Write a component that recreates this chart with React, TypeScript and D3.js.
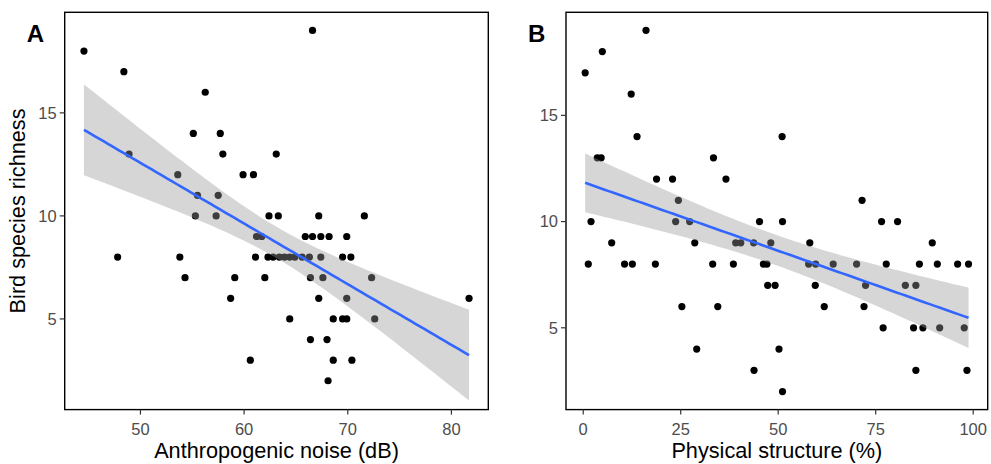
import React from 'react';
import * as d3 from 'd3';

// Panel A: anthropogenic noise (dB) vs bird species richness
const noiseX = [
  66.6, 44.55, 48.4, 56.25, 55.1, 57.7, 48.9, 57.95, 63.1, 53.6, 59.9, 60.9, 55.5, 57.5,
  55.3, 57.3, 62.4, 63.3, 67.2, 71.6,
  61.2, 61.7, 65.9, 66.6, 67.4, 68.2, 69.9,
  47.8, 53.8, 61.1, 62.3, 62.8, 63.4, 63.9, 64.4, 64.9, 65.6, 66.3, 67.4, 69.5, 70.3,
  54.3, 59.1, 62.0, 66.4, 67.6, 72.3,
  58.7, 67.2, 69.9, 81.7,
  64.4, 68.6, 69.5, 69.9, 72.6,
  66.4, 68.0,
  60.6, 68.6, 70.4,
  68.1,
];
const noiseY = [
  19, 18, 17, 16, 14, 14, 13, 13, 13, 12, 12, 12, 11, 11,
  10, 10, 10, 10, 10, 10,
  9, 9, 9, 9, 9, 9, 9,
  8, 8, 8, 8, 8, 8, 8, 8, 8, 8, 8, 8, 8, 8,
  7, 7, 7, 7, 7, 7,
  6, 6, 6, 6,
  5, 5, 5, 5, 5,
  4, 4,
  3, 3, 3,
  2,
];

// Panel B: physical structure (%) vs bird species richness
const structX = [
  16.1, 4.9, 0.5, 12.3, 13.8, 51.0, 3.6, 4.6, 33.4, 18.8, 22.9, 36.6, 24.4, 71.5,
  2.0, 23.7, 27.3, 45.2, 51.1, 76.5, 80.6,
  7.3, 28.6, 39.1, 40.4, 43.7, 48.1, 58.1, 89.5,
  1.3, 10.6, 12.6, 18.5, 33.2, 38.5, 46.2, 47.1, 57.8, 59.6, 64.1, 70.1, 77.7, 86.2, 90.8, 96.0, 98.8,
  47.3, 49.2, 59.5, 72.4, 82.6, 85.3,
  25.3, 34.5, 61.8, 72.0,
  76.9, 84.7, 87.1, 91.4, 97.7,
  29.1, 50.2,
  43.8, 85.3, 98.4,
  51.1,
];
const structY = [
  19, 18, 17, 16, 14, 14, 13, 13, 13, 12, 12, 12, 11, 11,
  10, 10, 10, 10, 10, 10, 10,
  9, 9, 9, 9, 9, 9, 9, 9,
  8, 8, 8, 8, 8, 8, 8, 8, 8, 8, 8, 8, 8, 8, 8, 8, 8,
  7, 7, 7, 7, 7, 7,
  6, 6, 6, 6,
  5, 5, 5, 5, 5,
  4, 4,
  3, 3, 3,
  2,
];

const xTicksA = [50, 60, 70, 80];
const xTicksB = [0, 25, 50, 75, 100];
const yTicks = [5, 10, 15];
const yDomainA: [number, number] = [0.6, 19.88];

const FONT = "'Liberation Sans', Arial, sans-serif";
const TOP = 12.3;
const BOTTOM = 409.6;

function smooth(xs: number[], ys: number[]) {
  const n = xs.length;
  const mx = d3.mean(xs)!;
  const my = d3.mean(ys)!;
  let sxx = 0, sxy = 0;
  for (let i = 0; i < n; i++) {
    sxx += (xs[i] - mx) ** 2;
    sxy += (xs[i] - mx) * (ys[i] - my);
  }
  const b = sxy / sxx;
  const a = my - b * mx;
  let sse = 0;
  for (let i = 0; i < n; i++) sse += (ys[i] - (a + b * xs[i])) ** 2;
  const s = Math.sqrt(sse / (n - 2));
  const t = 2.0;
  const [x0, x1] = d3.extent(xs) as [number, number];
  return d3.range(80).map((i) => {
    const x = x0 + ((x1 - x0) * i) / 79;
    const fit = a + b * x;
    const se = s * Math.sqrt(1 / n + (x - mx) ** 2 / sxx);
    return { x, fit, lo: fit - t * se, hi: fit + t * se };
  });
}

function expand([a, b]: [number, number]): [number, number] {
  const d = (b - a) * 0.05;
  return [a - d, b + d];
}

function Panel(props: {
  xs: number[]; ys: number[]; left: number; right: number; xTicks: number[];
  letter: string; title: string; yDomain?: [number, number];
}) {
  const { xs, ys, left, right, xTicks, letter, title, yDomain } = props;
  const sm = smooth(xs, ys);
  const x = d3.scaleLinear().domain(expand(d3.extent(xs) as [number, number])).range([left, right]);
  const yMin = Math.min(d3.min(ys)!, d3.min(sm, (d) => d.lo)!);
  const yMax = Math.max(d3.max(ys)!, d3.max(sm, (d) => d.hi)!);
  const y = d3.scaleLinear().domain(yDomain ?? expand([yMin, yMax])).range([BOTTOM, TOP]);
  const area = d3.area<any>().x((d) => x(d.x)).y0((d) => y(d.lo)).y1((d) => y(d.hi));
  const line = d3.line<any>().x((d) => x(d.x)).y((d) => y(d.fit));
  return (
    <g>
      <defs>
        <clipPath id={`clip-${letter}`}>
          <rect x={left} y={TOP} width={right - left} height={BOTTOM - TOP} />
        </clipPath>
      </defs>
      <g clipPath={`url(#clip-${letter})`}>
        {xs.map((v, i) => (
          <circle key={i} cx={x(v)} cy={y(ys[i])} r={3.6} fill="#000" />
        ))}
        <path d={area(sm)!} fill="#999999" fillOpacity={0.4} />
        <path d={line(sm)!} fill="none" stroke="#3366FF" strokeWidth={2.6} />
      </g>
      <rect x={left} y={TOP} width={right - left} height={BOTTOM - TOP} fill="none" stroke="#000" strokeWidth={1.4} />
      {xTicks.map((t) => (
        <g key={t}>
          <line x1={x(t)} x2={x(t)} y1={BOTTOM} y2={BOTTOM + 5} stroke="#333" strokeWidth={1.2} />
          <text x={x(t)} y={BOTTOM + 25} textAnchor="middle" fontSize={16.5} fill="#4D4D4D" fontFamily={FONT}>{t}</text>
        </g>
      ))}
      {yTicks.map((t) => (
        <g key={t}>
          <line x1={left - 5} x2={left} y1={y(t)} y2={y(t)} stroke="#333" strokeWidth={1.2} />
          <text x={left - 8} y={y(t) + 5.8} textAnchor="end" fontSize={16.5} fill="#4D4D4D" fontFamily={FONT}>{t}</text>
        </g>
      ))}
      <text x={(left + right) / 2} y={458} textAnchor="middle" fontSize={21.7} fill="#000" fontFamily={FONT}>{title}</text>
      <text x={left - 38} y={42} fontSize={24} fontWeight="bold" fill="#000" fontFamily={FONT}>{letter}</text>
    </g>
  );
}

export default function App() {
  return (
    <svg width={991} height={464} style={{ position: 'absolute', left: 0, top: 0, background: '#fff' }}>
      <rect width={991} height={464} fill="#fff" />
      <Panel xs={noiseX} ys={noiseY} left={64.7} right={488.3} xTicks={xTicksA} letter="A" title="Anthropogenic noise (dB)" yDomain={yDomainA} />
      <Panel xs={structX} ys={structY} left={566} right={987.7} xTicks={xTicksB} letter="B" title="Physical structure (%)" />
      <text transform={`translate(25,${(TOP + BOTTOM) / 2}) rotate(-90)`} textAnchor="middle" fontSize={21.7} fill="#000" fontFamily={FONT}>Bird species richness</text>
    </svg>
  );
}
